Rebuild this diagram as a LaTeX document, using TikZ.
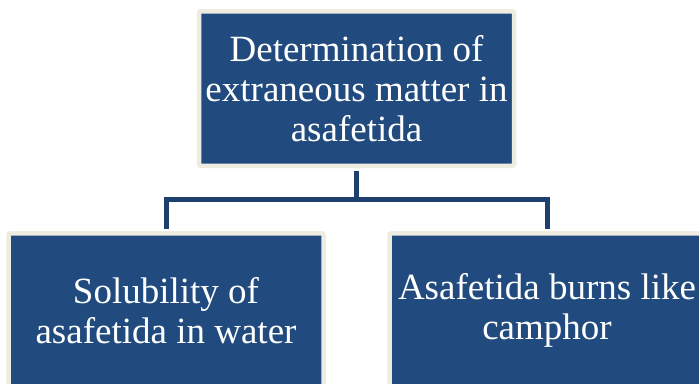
\documentclass[tikz,border=0pt]{standalone}
\usepackage{fontspec}
\setmainfont{Liberation Serif}
\definecolor{boxblue}{HTML}{214B7E}
\definecolor{rimbeige}{HTML}{EEECE1}
\definecolor{linkblue}{HTML}{1D406F}
\begin{document}
\begin{tikzpicture}[x=1pt,y=-1pt,
  chartbox/.style={draw=rimbeige, line width=4.5pt, fill=boxblue, rounded corners=2pt,
    text=white, align=center, inner sep=0pt,
    minimum width=315pt, minimum height=154.5pt,
    font=\fontsize{37}{40}\selectfont},
  link/.style={draw=linkblue, line width=5pt}]
\useasboundingbox (0,0) rectangle (699,383);
\clip (0,0) rectangle (699,383);
\fill[white] (0,0) rectangle (699,383);

% the three boxes
\node[chartbox] (root) at (356.5,88.5)
  {Determination of\\extraneous matter in\\asafetida};
\node[chartbox] (solub) at (166,310.5)
  {Solubility of\\asafetida in water};
\node[chartbox] (burns) at (547,310.5)
  {Asafetida burns like\\camphor};

% connectors: trunk, bar, and drops to each child
\coordinate (bar) at (356.5,199.8);
\draw[link] ([yshift=-2.5pt]root.south) -- (bar);
\draw[link] ([yshift=2.5pt]solub.north) |- (bar) -| ([yshift=2.5pt]burns.north);
\end{tikzpicture}
\end{document}
